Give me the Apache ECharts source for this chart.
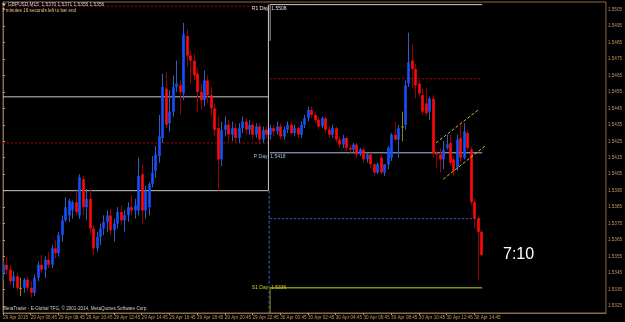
<!DOCTYPE html>
<html><head><meta charset="utf-8">
<script src="https://cdn.jsdelivr.net/npm/echarts@6/dist/echarts.min.js"></script>
<style>html,body{margin:0;padding:0;background:#000;}#c{width:625px;height:322px;}</style>
</head><body><div id="c"></div>
<script>
// ---- data (GBPUSD M15, 29 Apr 04:45 .. 30 Apr 15:15) ----
const opens  = [1.5345,1.5350,1.5347,1.5340,1.5343,1.5336,1.5336,1.5341,1.5336,1.5333,1.5342,1.5350,1.5347,1.5353,1.5350,1.5360,1.5357,1.5368,1.5377,1.5380,1.5383,1.5388,1.5380,1.5402,1.5385,1.5390,1.5372,1.5360,1.5367,1.5372,1.5376,1.5380,1.5371,1.5375,1.5382,1.5377,1.5380,1.5385,1.5383,1.5383,1.5405,1.5383,1.5385,1.5399,1.5407,1.5416,1.5427,1.5457,1.5436,1.5443,1.5458,1.5459,1.5454,1.5489,1.5477,1.5474,1.5466,1.5455,1.5450,1.5462,1.5453,1.5445,1.5433,1.5414,1.5432,1.5435,1.5429,1.5433,1.5427,1.5433,1.5437,1.5432,1.5435,1.5429,1.5434,1.5426,1.5432,1.5429,1.5433,1.5431,1.5434,1.5428,1.5432,1.5435,1.5430,1.5433,1.5429,1.5435,1.5439,1.5444,1.5441,1.5438,1.5434,1.5439,1.5432,1.5429,1.5433,1.5426,1.5423,1.5427,1.5421,1.5420,1.5423,1.5417,1.5420,1.5414,1.5417,1.5411,1.5406,1.5415,1.5406,1.5411,1.5415,1.5429,1.5426,1.5434,1.5435,1.5460,1.5474,1.5469,1.5460,1.5453,1.5448,1.5443,1.5451,1.5418,1.5417,1.5414,1.5421,1.5424,1.5414,1.5409,1.5427,1.5415,1.5430,1.5420,1.5388,1.5378,1.5370];
const highs  = [1.5352,1.5355,1.5350,1.5346,1.5345,1.5342,1.5342,1.5343,1.5340,1.5344,1.5352,1.5356,1.5355,1.5358,1.5362,1.5365,1.5370,1.5380,1.5391,1.5390,1.5389,1.5395,1.5405,1.5404,1.5396,1.5396,1.5374,1.5370,1.5375,1.5380,1.5383,1.5384,1.5378,1.5385,1.5386,1.5383,1.5388,1.5392,1.5390,1.5415,1.5411,1.5398,1.5400,1.5416,1.5422,1.5441,1.5466,1.5467,1.5456,1.5465,1.5474,1.5462,1.5497,1.5493,1.5480,1.5478,1.5470,1.5460,1.5468,1.5465,1.5458,1.5448,1.5440,1.5437,1.5440,1.5438,1.5437,1.5436,1.5436,1.5440,1.5439,1.5438,1.5437,1.5436,1.5436,1.5434,1.5434,1.5435,1.5435,1.5437,1.5436,1.5434,1.5437,1.5437,1.5435,1.5434,1.5437,1.5441,1.5446,1.5446,1.5443,1.5440,1.5440,1.5440,1.5434,1.5435,1.5434,1.5428,1.5429,1.5428,1.5423,1.5424,1.5424,1.5421,1.5421,1.5418,1.5418,1.5412,1.5412,1.5417,1.5411,1.5422,1.5430,1.5437,1.5435,1.5443,1.5462,1.5491,1.5484,1.5472,1.5462,1.5457,1.5457,1.5452,1.5453,1.5419,1.5421,1.5425,1.5429,1.5429,1.5416,1.5429,1.5435,1.5436,1.5432,1.5422,1.5390,1.5380,1.5371];
const lows   = [1.5340,1.5344,1.5338,1.5336,1.5334,1.5331,1.5333,1.5334,1.5330,1.5331,1.5340,1.5345,1.5342,1.5348,1.5348,1.5354,1.5355,1.5364,1.5376,1.5376,1.5378,1.5380,1.5378,1.5380,1.5377,1.5368,1.5356,1.5358,1.5362,1.5368,1.5370,1.5368,1.5364,1.5372,1.5374,1.5370,1.5376,1.5380,1.5378,1.5380,1.5375,1.5378,1.5380,1.5397,1.5403,1.5412,1.5424,1.5433,1.5431,1.5440,1.5455,1.5441,1.5450,1.5470,1.5460,1.5462,1.5443,1.5444,1.5446,1.5448,1.5440,1.5428,1.5395,1.5410,1.5428,1.5425,1.5425,1.5424,1.5424,1.5430,1.5429,1.5429,1.5426,1.5427,1.5423,1.5424,1.5427,1.5426,1.5428,1.5429,1.5426,1.5426,1.5430,1.5429,1.5428,1.5427,1.5427,1.5433,1.5437,1.5439,1.5436,1.5432,1.5433,1.5430,1.5427,1.5427,1.5424,1.5421,1.5421,1.5419,1.5418,1.5418,1.5415,1.5416,1.5412,1.5412,1.5409,1.5404,1.5405,1.5405,1.5404,1.5408,1.5413,1.5425,1.5415,1.5425,1.5432,1.5458,1.5457,1.5451,1.5452,1.5441,1.5440,1.5438,1.5415,1.5409,1.5406,1.5408,1.5420,1.5410,1.5404,1.5407,1.5412,1.5414,1.5419,1.5386,1.5372,1.5341,1.5355];
const closes = [1.5350,1.5347,1.5340,1.5343,1.5336,1.5336,1.5341,1.5336,1.5333,1.5342,1.5350,1.5347,1.5353,1.5350,1.5360,1.5357,1.5368,1.5377,1.5385,1.5389,1.5388,1.5382,1.5403,1.5385,1.5390,1.5372,1.5360,1.5367,1.5372,1.5376,1.5380,1.5371,1.5375,1.5382,1.5377,1.5380,1.5385,1.5383,1.5386,1.5404,1.5383,1.5395,1.5399,1.5406,1.5417,1.5428,1.5458,1.5435,1.5443,1.5458,1.5460,1.5455,1.5490,1.5477,1.5474,1.5465,1.5455,1.5450,1.5462,1.5453,1.5445,1.5432,1.5414,1.5432,1.5435,1.5429,1.5433,1.5427,1.5433,1.5437,1.5432,1.5435,1.5429,1.5434,1.5426,1.5432,1.5429,1.5433,1.5431,1.5434,1.5428,1.5432,1.5435,1.5430,1.5433,1.5429,1.5435,1.5439,1.5444,1.5441,1.5438,1.5434,1.5439,1.5432,1.5429,1.5433,1.5426,1.5423,1.5427,1.5421,1.5420,1.5423,1.5417,1.5420,1.5414,1.5417,1.5411,1.5406,1.5411,1.5406,1.5411,1.5421,1.5429,1.5426,1.5433,1.5434,1.5459,1.5473,1.5469,1.5459,1.5454,1.5443,1.5442,1.5451,1.5418,1.5417,1.5414,1.5420,1.5423,1.5412,1.5407,1.5426,1.5415,1.5431,1.5421,1.5388,1.5378,1.5370,1.5356];

const timeTicks = ['29 Apr 2015','29 Apr 06:45','29 Apr 08:45','29 Apr 10:45','29 Apr 12:45','29 Apr 14:45','29 Apr 16:45','29 Apr 18:45','29 Apr 20:45','29 Apr 22:45','30 Apr 00:45','30 Apr 02:45','30 Apr 04:45','30 Apr 06:45','30 Apr 08:45','30 Apr 10:45','30 Apr 12:45','30 Apr 14:45'];
const priceTicks = [1.5325,1.5335,1.5345,1.5355,1.5365,1.5375,1.5385,1.5395,1.5405,1.5415,1.5425,1.5435,1.5445,1.5455,1.5465,1.5475,1.5485,1.5495,1.5505];

// pivot levels
const prevDayLevels = [1.5507, 1.5452, 1.5424, 1.5395];
const dayLevels = {R1: 1.5508, mid: 1.5463, P: 1.5418, low: 1.5378, S1: 1.5336};
const channelUpper = [[124.97, 1.5424], [137.12, 1.5444]];
const channelLower = [[127.06, 1.5402], [139.04, 1.5422]];
const lastPrice = 1.5356;

// ---- chart ----
const N = 175;
const cats = [];
const months = ['Jan','Feb','Mar','Apr','May','Jun','Jul','Aug','Sep','Oct','Nov','Dec'];
const t0 = new Date(2015, 3, 29, 4, 45).getTime();
for (let i = 0; i < N; i++) {
  const d = new Date(t0 + i * 15 * 60000);
  cats.push(d.getDate() + ' ' + months[d.getMonth()] + ' ' + String(d.getHours()).padStart(2,'0') + ':' + String(d.getMinutes()).padStart(2,'0'));
}
const candleData = opens.map((o, i) => [i, o, closes[i], lows[i], highs[i]]);
const dayStart = 77;   // 30 Apr 00:00
const dayEnd = 138.3;

const FONT = 'Liberation Sans';
const brown = '#8c6a46';
const tan = '#c8965e';

function hline(x0, x1, p, color, type, width) {
  return {type:'line', xAxisIndex:1, yAxisIndex:0, symbol:'none', silent:true, animation:false,
    data:[[x0,p],[x1,p]], lineStyle:{color:color, type:type, width:width||1}, z:1};
}
function vline(x, p0, p1, color, type) {
  return {type:'line', xAxisIndex:1, yAxisIndex:0, symbol:'none', silent:true, animation:false,
    data:[[x,p0],[x,p1]], lineStyle:{color:color, type:type, width:1}, z:1};
}

function renderCandle(params, api) {
  const i = api.value(0), o = api.value(1), c = api.value(2), l = api.value(3), h = api.value(4);
  const pO = api.coord([i, o]), pC = api.coord([i, c]), pL = api.coord([i, l]), pH = api.coord([i, h]);
  const x = Math.round(pO[0]) + 0.5;
  const bull = c > o, doji = c === o;
  const bodyCol = doji ? '#b0b020' : (bull ? '#1450ff' : '#ff0a0a');
  const wickCol = doji ? '#8a8a10' : (bull ? '#2f5fb8' : '#9a0000');
  const top = Math.min(pO[1], pC[1]), bot = Math.max(pO[1], pC[1]);
  return {type:'group', children:[
    {type:'line', shape:{x1:x, y1:pH[1], x2:x, y2:pL[1]}, style:{stroke:wickCol, lineWidth:1}},
    {type:'rect', shape:{x:x-1.3, y:top, width:2.6, height:Math.max(bot-top, 1)}, style:{fill:bodyCol}}
  ]};
}

const chart = echarts.init(document.getElementById('c'), null, {renderer:'canvas'});
const yMin = 1.53207, yMax = 1.55096;
const series = [
  hline(0, 76.6, prevDayLevels[0], '#b00000', [2,2]),
  hline(0, 76.6, prevDayLevels[1], '#c8c8c8', 'solid'),
  hline(0, 76.6, prevDayLevels[2], '#b00000', [2,2]),
  hline(0, 76.6, prevDayLevels[3], '#c8c8c8', 'solid'),
  vline(76.6, dayLevels.R1, prevDayLevels[3], '#c8c8c8', 'solid'),
  vline(76.8, prevDayLevels[3], yMin, '#3a6ad0', [3,2]),
  hline(dayStart, dayEnd, dayLevels.R1, '#d0d0d0', 'solid'),
  vline(dayStart+0.1, dayLevels.R1, 1.5486, '#a0a0a0', 'solid'),
  hline(dayStart, dayEnd, dayLevels.mid, '#b00000', [2,2]),
  hline(dayStart, dayEnd, dayLevels.P, '#a8c0e0', 'solid'),
  hline(dayStart, dayEnd, dayLevels.low, '#3a6ad0', [2,2]),
  hline(dayStart, dayEnd, dayLevels.S1, '#8a8a10', 'solid', 1.5),
  vline(dayStart+0.1, dayLevels.S1, yMin, '#8a8a10', 'solid'),
  {type:'line', xAxisIndex:1, yAxisIndex:0, symbol:'none', silent:true, animation:false, data:channelUpper, lineStyle:{color:'#c8c820', type:[3,2], width:1}, z:3},
  {type:'line', xAxisIndex:1, yAxisIndex:0, symbol:'none', silent:true, animation:false, data:channelLower, lineStyle:{color:'#c8c820', type:[3,2], width:1}, z:3},
  {type:'custom', xAxisIndex:1, yAxisIndex:0, data:candleData, renderItem:renderCandle, animation:false, z:2, clip:true,
    encode:{x:0, y:[1,2,3,4]}},
  {type:'line', xAxisIndex:1, yAxisIndex:0, data:[], symbol:'none', animation:false,
    markLine:{symbol:'none', silent:true, animation:false, data:[{yAxis:lastPrice}], lineStyle:{opacity:0},
      label:{position:'end', formatter:lastPrice.toFixed(4), backgroundColor:'#f2b060', color:'#402000', fontSize:5, fontFamily:FONT, padding:[1,2,1,2], distance:1}}}
];

chart.setOption({
  backgroundColor:'#000',
  animation:false,
  grid:{left:1, top:2, right:18, bottom:9, show:true, borderColor:brown, borderWidth:1, backgroundColor:'transparent'},
  xAxis:[
    {type:'category', data:cats, boundaryGap:false, axisLine:{lineStyle:{color:brown}},
      axisTick:{interval:(i)=> i%8===0 && i/8 < timeTicks.length, length:2, lineStyle:{color:tan}},
      axisLabel:{interval:(i)=> i%8===0 && i/8 < timeTicks.length, formatter:(v,i)=> timeTicks[i/8] || '', color:tan, fontSize:4.6, fontFamily:FONT, align:'left', margin:2},
      splitLine:{show:false}},
    {type:'value', min:0, max:N-1, show:false}
  ],
  yAxis:[{type:'value', position:'right', min:yMin, max:yMax, scale:true,
    axisLine:{show:true, lineStyle:{color:brown}},
    axisTick:{show:true, length:2, customValues:priceTicks, lineStyle:{color:tan}},
    axisLabel:{customValues:priceTicks, formatter:(v)=>v.toFixed(4), color:tan, fontSize:4.6, fontFamily:FONT, margin:2},
    splitLine:{show:false}}],
  series:series
});

const pR1 = chart.convertToPixel({xAxisIndex:1, yAxisIndex:0}, [dayStart, dayLevels.R1]);
const pP  = chart.convertToPixel({xAxisIndex:1, yAxisIndex:0}, [dayStart, dayLevels.P]);
const pS1 = chart.convertToPixel({xAxisIndex:1, yAxisIndex:0}, [dayStart, dayLevels.S1]);
function txt(x, y, s, color, size, align, vAlign) {
  return {type:'text', x:x, y:y, silent:true, z:10, style:{text:s, fill:color, font:size+'px "'+FONT+'"', textAlign:align||'left', textVerticalAlign:vAlign||'top'}};
}
chart.setOption({graphic:[
  txt(8, 2, 'GBPUSD,M15  1.5370 1.5371 1.5355 1.5356', '#d8d8d8', 4.8),
  {type:'polygon', shape:{points:[[2,3.5],[6,3.5],[4,6]]}, style:{fill:'#d8d8d8'}, z:10},
  txt(2, 8, '7 minutes 16 seconds left to bar end', '#e8c890', 4.6),
  txt(pR1[0]-18, pR1[1]+1, 'R1 Day  1.5508', '#e0e0e0', 5),
  txt(pP[0]-16, pP[1]+1.5, 'P Day  1.5418', '#a8c0e0', 5),
  txt(pS1[0]-18, pS1[1]-3, 'S1 Day  1.5336', '#d0d020', 5),
  txt(3, 308.5, 'MetaTrader - E-Global TFG, \u00a9 2001-2014, MetaQuotes Software Corp.', '#d0d0d0', 4.6, 'left', 'middle'),
  txt(503, 255, '7:10', '#ffffff', 16, 'left', 'middle')
]});
</script></body></html>
